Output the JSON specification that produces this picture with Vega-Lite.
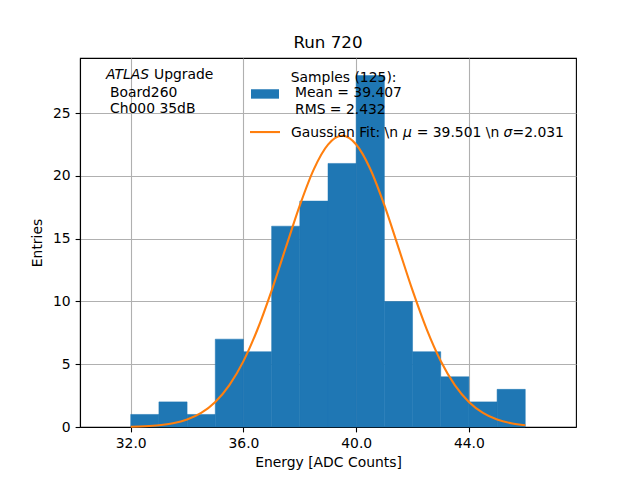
{
  "$schema": "https://vega.github.io/schema/vega-lite/v6.json",
  "width": 496,
  "height": 369,
  "autosize": {"type": "none"},
  "padding": {"left": 80, "top": 58, "right": 64, "bottom": 53},
  "background": "white",
  "title": {
    "text": "Run 720",
    "fontSize": 16.7,
    "fontWeight": "normal",
    "font": "DejaVu Sans",
    "color": "black",
    "offset": 6
  },
  "config": {
    "font": "DejaVu Sans",
    "view": {"stroke": "black", "strokeWidth": 1.1},
    "axis": {
      "domainColor": "black",
      "domainWidth": 1.1,
      "tickColor": "black",
      "tickWidth": 1.1,
      "tickSize": 4.9,
      "labelFont": "DejaVu Sans",
      "labelFontSize": 13.9,
      "labelColor": "black",
      "labelPadding": 4.9,
      "titleFont": "DejaVu Sans",
      "titleFontSize": 13.9,
      "titleFontWeight": "normal",
      "titleColor": "black",
      "gridColor": "#b0b0b0",
      "gridWidth": 1.1,
      "zindex": 1
    },
    "text": {"font": "DejaVu Sans", "fontSize": 13.9, "color": "black", "align": "left", "baseline": "alphabetic", "lineHeight": 16.6, "lineBreak": "\n"}
  },
  "datasets": {
    "hist": [
      {"bin_start": 32, "bin_end": 33, "count": 1},
      {"bin_start": 33, "bin_end": 34, "count": 2},
      {"bin_start": 34, "bin_end": 35, "count": 1},
      {"bin_start": 35, "bin_end": 36, "count": 7},
      {"bin_start": 36, "bin_end": 37, "count": 6},
      {"bin_start": 37, "bin_end": 38, "count": 16},
      {"bin_start": 38, "bin_end": 39, "count": 18},
      {"bin_start": 39, "bin_end": 40, "count": 21},
      {"bin_start": 40, "bin_end": 41, "count": 28},
      {"bin_start": 41, "bin_end": 42, "count": 10},
      {"bin_start": 42, "bin_end": 43, "count": 6},
      {"bin_start": 43, "bin_end": 44, "count": 4},
      {"bin_start": 44, "bin_end": 45, "count": 2},
      {"bin_start": 45, "bin_end": 46, "count": 3}
    ],
    "fit": [
      {"energy": 32.0, "entries": 0.025},
      {"energy": 32.5, "entries": 0.061},
      {"energy": 33.0, "entries": 0.138},
      {"energy": 33.5, "entries": 0.295},
      {"energy": 34.0, "entries": 0.592},
      {"energy": 34.5, "entries": 1.119},
      {"energy": 35.0, "entries": 1.991},
      {"energy": 35.5, "entries": 3.334},
      {"energy": 36.0, "entries": 5.25},
      {"energy": 36.5, "entries": 7.788},
      {"energy": 37.0, "entries": 10.87},
      {"energy": 37.5, "entries": 14.28},
      {"energy": 38.0, "entries": 17.66},
      {"energy": 38.5, "entries": 20.55},
      {"energy": 39.0, "entries": 22.5},
      {"energy": 39.5, "entries": 23.2},
      {"energy": 40.0, "entries": 22.51},
      {"energy": 40.5, "entries": 20.56},
      {"energy": 41.0, "entries": 17.67},
      {"energy": 41.5, "entries": 14.29},
      {"energy": 42.0, "entries": 10.88},
      {"energy": 42.5, "entries": 7.8},
      {"energy": 43.0, "entries": 5.26},
      {"energy": 43.5, "entries": 3.34},
      {"energy": 44.0, "entries": 1.996},
      {"energy": 44.5, "entries": 1.122},
      {"energy": 45.0, "entries": 0.594},
      {"energy": 45.5, "entries": 0.296},
      {"energy": 46.0, "entries": 0.139}
    ]
  },
  "layer": [
    {
      "data": {"name": "hist"},
      "mark": {"type": "rect", "color": "#1f77b4", "stroke": "#1f77b4", "strokeWidth": 0.5},
      "encoding": {
        "x": {
          "field": "bin_start",
          "type": "quantitative",
          "scale": {"domain": [30.2, 47.8], "nice": false, "zero": false},
          "axis": {"values": [32, 36, 40, 44], "format": ".1f", "title": "Energy [ADC Counts]", "labelFlush": false, "titlePadding": 5}
        },
        "x2": {"field": "bin_end"},
        "y": {
          "field": "count",
          "type": "quantitative",
          "scale": {"domain": [0, 29.4], "nice": false},
          "axis": {"values": [0, 5, 10, 15, 20, 25], "title": "Entries", "titlePadding": 8}
        },
        "y2": {"datum": 0}
      }
    },
    {
      "data": {"name": "fit"},
      "mark": {"type": "line", "color": "#ff7f0e", "strokeWidth": 2.1, "interpolate": "monotone"},
      "encoding": {
        "x": {"field": "energy", "type": "quantitative"},
        "y": {"field": "entries", "type": "quantitative"}
      }
    },
    {
      "data": {"values": [{}]},
      "mark": {"type": "text", "text": "ATLAS", "fontStyle": "italic"},
      "encoding": {"x": {"datum": 31.123}, "y": {"datum": 27.7}}
    },
    {
      "data": {"values": [{}]},
      "mark": {"type": "text", "text": "Upgrade"},
      "encoding": {"x": {"datum": 32.826}, "y": {"datum": 27.7}}
    },
    {
      "data": {"values": [{}]},
      "mark": {"type": "text", "text": "Board260\nCh000 35dB"},
      "encoding": {"x": {"datum": 31.265}, "y": {"datum": 26.33}}
    },
    {
      "data": {"values": [{}]},
      "mark": {"type": "text", "text": "Samples (125):"},
      "encoding": {"x": {"datum": 37.677}, "y": {"datum": 27.51}}
    },
    {
      "data": {"values": [{}]},
      "mark": {"type": "text", "text": "Mean = 39.407\nRMS = 2.432"},
      "encoding": {"x": {"datum": 37.829}, "y": {"datum": 26.27}}
    },
    {
      "data": {"values": [{}]},
      "mark": {"type": "text", "text": "Gaussian Fit: \\n"},
      "encoding": {"x": {"datum": 37.687}, "y": {"datum": 23.13}}
    },
    {
      "data": {"values": [{}]},
      "mark": {"type": "text", "text": "μ", "fontStyle": "italic"},
      "encoding": {"x": {"datum": 41.661}, "y": {"datum": 23.13}}
    },
    {
      "data": {"values": [{}]},
      "mark": {"type": "text", "text": "= 39.501 \\n"},
      "encoding": {"x": {"datum": 42.148}, "y": {"datum": 23.13}}
    },
    {
      "data": {"values": [{}]},
      "mark": {"type": "text", "text": "σ", "fontStyle": "italic"},
      "encoding": {"x": {"datum": 45.227}, "y": {"datum": 23.13}}
    },
    {
      "data": {"values": [{}]},
      "mark": {"type": "text", "text": "=2.031"},
      "encoding": {"x": {"datum": 45.547}, "y": {"datum": 23.13}}
    },
    {
      "data": {"values": [{}]},
      "mark": {"type": "rect", "color": "#1f77b4"},
      "encoding": {"x": {"datum": 36.268}, "x2": {"datum": 37.261}, "y": {"datum": 26.91}, "y2": {"datum": 26.16}}
    },
    {
      "data": {"values": [{}]},
      "mark": {"type": "rule", "color": "#ff7f0e", "strokeWidth": 2.1},
      "encoding": {"x": {"datum": 36.232}, "x2": {"datum": 37.297}, "y": {"datum": 23.5}}
    }
  ]
}
